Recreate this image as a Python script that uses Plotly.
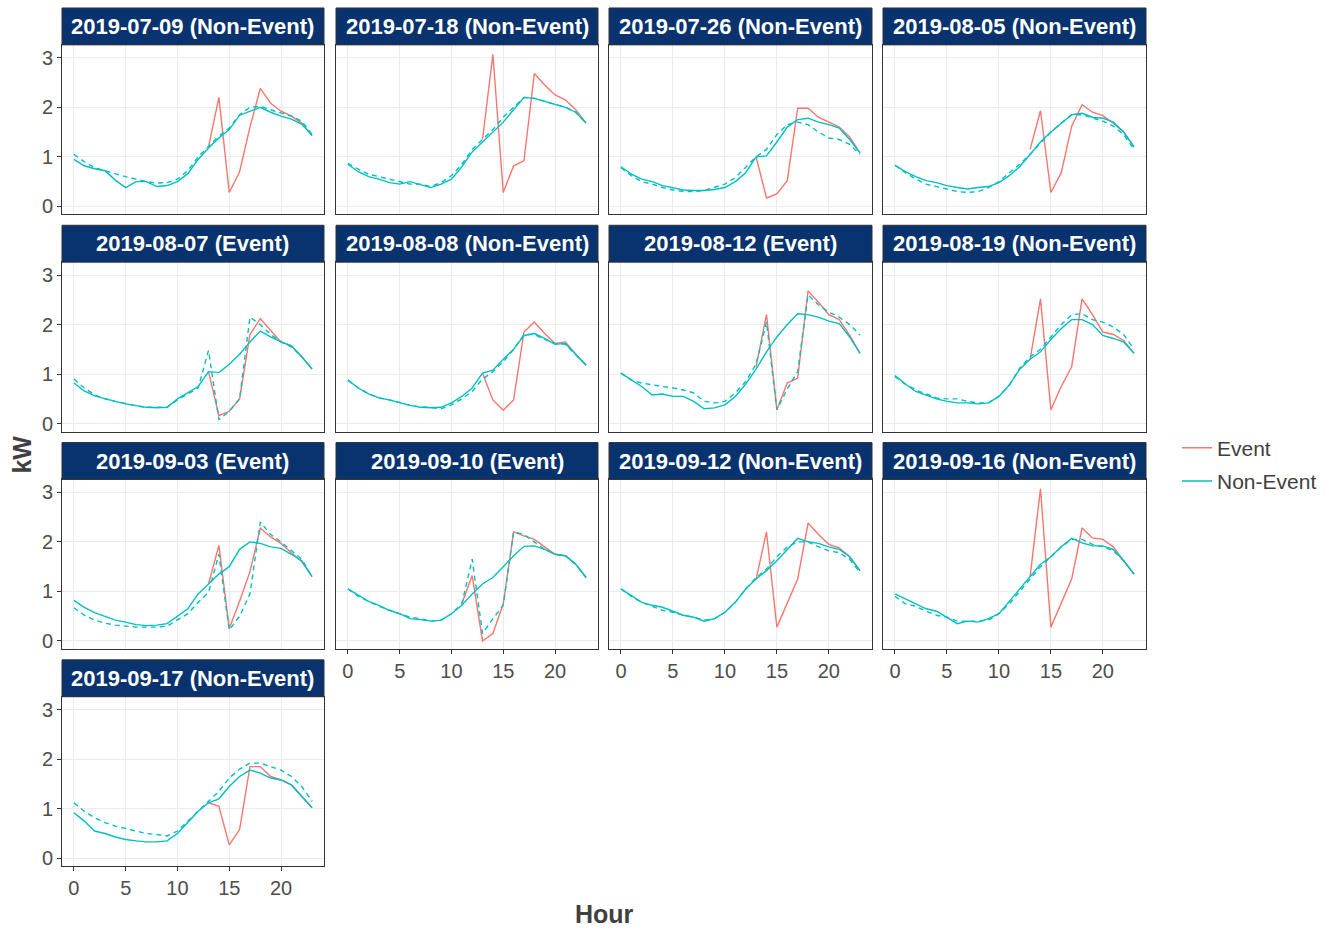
import plotly.graph_objects as go

hours = list(range(24))

dates = ["2019-07-09", "2019-07-18", "2019-07-26", "2019-08-05",
         "2019-08-07", "2019-08-08", "2019-08-12", "2019-08-19",
         "2019-09-03", "2019-09-10", "2019-09-12", "2019-09-16",
         "2019-09-17"]
day_type = ["Non-Event", "Non-Event", "Non-Event", "Non-Event",
            "Event", "Non-Event", "Event", "Non-Event",
            "Event", "Event", "Non-Event", "Non-Event",
            "Non-Event"]

# teal solid line (Non-Event)
solid_0709 = [0.95, 0.82, 0.76, 0.72, 0.53, 0.38, 0.5, 0.5, 0.4, 0.42, 0.5, 0.66, 0.95, 1.18, 1.38, 1.55, 1.84, 1.92, 2.0, 1.9, 1.82, 1.76, 1.66, 1.43]
solid_0718 = [0.85, 0.7, 0.6, 0.55, 0.48, 0.45, 0.5, 0.44, 0.38, 0.45, 0.55, 0.8, 1.1, 1.3, 1.5, 1.7, 1.95, 2.2, 2.18, 2.12, 2.05, 2.0, 1.9, 1.68]
solid_0726 = [0.8, 0.65, 0.55, 0.5, 0.42, 0.38, 0.33, 0.32, 0.32, 0.34, 0.38, 0.5, 0.68, 1.0, 1.02, 1.3, 1.6, 1.75, 1.78, 1.7, 1.65, 1.58, 1.35, 1.08]
solid_0805 = [0.83, 0.7, 0.6, 0.52, 0.48, 0.42, 0.38, 0.35, 0.38, 0.4, 0.48, 0.62, 0.8, 1.05, 1.3, 1.5, 1.68, 1.85, 1.88, 1.8, 1.78, 1.7, 1.5, 1.2]
solid_0807 = [0.82, 0.66, 0.56, 0.5, 0.45, 0.4, 0.36, 0.33, 0.32, 0.33, 0.5, 0.62, 0.75, 1.05, 1.03, 1.2, 1.4, 1.65, 1.87, 1.75, 1.65, 1.57, 1.35, 1.1]
solid_0808 = [0.88, 0.72, 0.6, 0.52, 0.48, 0.42, 0.37, 0.33, 0.32, 0.33, 0.42, 0.55, 0.72, 1.02, 1.08, 1.3, 1.5, 1.78, 1.82, 1.72, 1.6, 1.62, 1.4, 1.18]
solid_0812 = [1.02, 0.88, 0.75, 0.58, 0.6, 0.55, 0.55, 0.45, 0.3, 0.32, 0.38, 0.55, 0.8, 1.1, 1.45, 1.75, 2.0, 2.22, 2.2, 2.15, 2.07, 2.02, 1.75, 1.42]
solid_0819 = [0.97, 0.8, 0.65, 0.57, 0.5, 0.45, 0.42, 0.42, 0.4, 0.42, 0.55, 0.78, 1.1, 1.3, 1.45, 1.7, 1.92, 2.1, 2.1, 2.0, 1.78, 1.72, 1.65, 1.42]
solid_0903 = [0.82, 0.68, 0.57, 0.5, 0.42, 0.38, 0.33, 0.31, 0.32, 0.35, 0.5, 0.65, 0.95, 1.15, 1.35, 1.5, 1.85, 2.0, 1.97, 1.9, 1.87, 1.75, 1.62, 1.3]
solid_0910 = [1.05, 0.92, 0.8, 0.72, 0.62, 0.55, 0.45, 0.43, 0.4, 0.42, 0.55, 0.72, 0.95, 1.15, 1.28, 1.5, 1.72, 1.91, 1.92, 1.85, 1.75, 1.72, 1.55, 1.28]
solid_0912 = [1.05, 0.92, 0.78, 0.72, 0.68, 0.6, 0.52, 0.48, 0.4, 0.45, 0.58, 0.78, 1.05, 1.25, 1.42, 1.62, 1.85, 2.07, 2.0, 1.97, 1.9, 1.85, 1.7, 1.42]
solid_0916 = [0.95, 0.85, 0.75, 0.65, 0.6, 0.48, 0.35, 0.4, 0.38, 0.45, 0.55, 0.8, 1.05, 1.3, 1.55, 1.7, 1.9, 2.07, 1.98, 1.92, 1.92, 1.85, 1.62, 1.35]
solid_0917 = [0.92, 0.75, 0.55, 0.5, 0.43, 0.38, 0.35, 0.33, 0.33, 0.35, 0.5, 0.72, 0.95, 1.12, 1.2, 1.45, 1.65, 1.78, 1.72, 1.62, 1.58, 1.48, 1.25, 1.02]

# teal dashed line
dash_0709 = [1.05, 0.9, 0.78, 0.72, 0.65, 0.6, 0.55, 0.5, 0.47, 0.48, 0.55, 0.72, 1.0, 1.2, 1.42, 1.58, 1.85, 2.0, 2.02, 1.95, 1.88, 1.82, 1.72, 1.45]
dash_0718 = [0.87, 0.75, 0.65, 0.6, 0.55, 0.5, 0.45, 0.45, 0.4, 0.48, 0.62, 0.85, 1.15, 1.35, 1.55, 1.8, 2.0, 2.2, 2.18, 2.12, 2.05, 2.0, 1.9, 1.68]
dash_0726 = [0.78, 0.62, 0.5, 0.45, 0.38, 0.33, 0.3, 0.3, 0.32, 0.38, 0.45, 0.58, 0.78, 1.0, 1.15, 1.45, 1.65, 1.7, 1.65, 1.5, 1.38, 1.35, 1.25, 1.05]
dash_0805 = [0.83, 0.68, 0.55, 0.45, 0.4, 0.35, 0.3, 0.28, 0.3, 0.38, 0.5, 0.68, 0.85, 1.05, 1.28, 1.5, 1.68, 1.85, 1.85, 1.78, 1.72, 1.62, 1.45, 1.15]
dash_0807 = [0.9, 0.72, 0.58, 0.5, 0.45, 0.4, 0.36, 0.33, 0.33, 0.33, 0.48, 0.6, 0.72, 1.48, 0.08, 0.25, 0.5, 2.15, 2.0, 1.8, 1.65, 1.55, 1.35, 1.1]
dash_0808 = [0.88, 0.72, 0.6, 0.52, 0.48, 0.42, 0.37, 0.34, 0.33, 0.3, 0.38, 0.5, 0.65, 0.9, 1.05, 1.25, 1.5, 1.8, 1.8, 1.7, 1.62, 1.6, 1.38, 1.18]
dash_0812 = [1.02, 0.88, 0.82, 0.78, 0.75, 0.72, 0.68, 0.62, 0.45, 0.42, 0.45, 0.62, 0.85, 1.2, 2.05, 0.28, 0.7, 1.05, 2.6, 2.4, 2.25, 2.15, 2.0, 1.79]
dash_0819 = [0.95, 0.8, 0.68, 0.6, 0.52, 0.5, 0.5, 0.45, 0.42, 0.42, 0.55, 0.78, 1.12, 1.35, 1.5, 1.75, 2.0, 2.2, 2.22, 2.1, 2.05, 1.95, 1.8, 1.5]
dash_0903 = [0.67, 0.52, 0.42, 0.36, 0.32, 0.3, 0.28, 0.28, 0.28, 0.3, 0.42, 0.55, 0.78, 0.98, 1.75, 0.22, 0.5, 0.95, 2.4, 2.15, 2.0, 1.82, 1.65, 1.3]
dash_0910 = [1.05, 0.9, 0.8, 0.7, 0.62, 0.55, 0.48, 0.45, 0.4, 0.42, 0.55, 0.75, 1.65, 0.15, 0.45, 0.72, 2.2, 2.15, 2.0, 1.85, 1.75, 1.72, 1.55, 1.28]
dash_0912 = [1.05, 0.9, 0.78, 0.7, 0.62, 0.58, 0.52, 0.48, 0.42, 0.45, 0.58, 0.78, 1.05, 1.28, 1.45, 1.7, 1.9, 2.0, 2.0, 1.9, 1.82, 1.78, 1.65, 1.38]
dash_0916 = [0.9, 0.75, 0.7, 0.6, 0.52, 0.48, 0.4, 0.4, 0.4, 0.42, 0.55, 0.75, 1.0, 1.25, 1.5, 1.7, 1.9, 2.05, 2.05, 1.95, 1.9, 1.82, 1.62, 1.35]
dash_0917 = [1.12, 0.95, 0.82, 0.72, 0.65, 0.6, 0.55, 0.5, 0.48, 0.45, 0.55, 0.75, 0.95, 1.15, 1.35, 1.62, 1.8, 1.92, 1.92, 1.85, 1.78, 1.65, 1.45, 1.15]

# red line (Event) - only the hours where it departs from the teal line
event_0709 = [None] * 13 + [1.2, 2.2, 0.28, 0.7, 1.6, 2.38, 2.08, 1.92, 1.82, 1.68, 1.43]
event_0718 = [None] * 13 + [1.35, 3.07, 0.28, 0.82, 0.92, 2.68, 2.45, 2.25, 2.15, 1.95, 1.68]
event_0726 = [None] * 13 + [1.0, 0.17, 0.25, 0.52, 1.98, 1.98, 1.8, 1.7, 1.6, 1.4, 1.08]
event_0805 = [None] * 13 + [1.15, 1.93, 0.28, 0.68, 1.62, 2.05, 1.9, 1.83, 1.68, 1.5, 1.2]
event_0807 = [None] * 13 + [1.05, 0.16, 0.25, 0.5, 1.8, 2.12, 1.88, 1.65, 1.57, 1.35, 1.1]
event_0808 = [None] * 13 + [1.02, 0.48, 0.27, 0.48, 1.85, 2.05, 1.82, 1.62, 1.65, 1.4, 1.18]
event_0812 = [None] * 13 + [1.15, 2.2, 0.28, 0.82, 0.92, 2.68, 2.45, 2.2, 2.1, 1.78, 1.42]
event_0819 = [None] * 13 + [1.3, 2.52, 0.28, 0.75, 1.15, 2.52, 2.2, 1.85, 1.8, 1.68, 1.42]
event_0903 = [None] * 13 + [1.15, 1.93, 0.25, 0.8, 1.4, 2.28, 2.1, 1.97, 1.78, 1.6, 1.3]
event_0910 = [None] * 11 + [0.75, 1.32, 0.0, 0.15, 0.75, 2.2, 2.12, 2.05, 1.9, 1.75, 1.72, 1.55, 1.28]
event_0912 = [None] * 13 + [1.25, 2.2, 0.28, 0.75, 1.25, 2.38, 2.15, 1.95, 1.88, 1.7, 1.42]
event_0916 = [None] * 13 + [1.3, 3.07, 0.28, 0.75, 1.25, 2.28, 2.08, 2.05, 1.9, 1.62, 1.35]
event_0917 = [None] * 13 + [1.12, 1.05, 0.27, 0.58, 1.85, 1.85, 1.65, 1.58, 1.48, 1.25, 1.02]

solid_series = [solid_0709, solid_0718, solid_0726, solid_0805, solid_0807, solid_0808,
                solid_0812, solid_0819, solid_0903, solid_0910, solid_0912, solid_0916, solid_0917]
dash_series = [dash_0709, dash_0718, dash_0726, dash_0805, dash_0807, dash_0808,
               dash_0812, dash_0819, dash_0903, dash_0910, dash_0912, dash_0916, dash_0917]
event_series = [event_0709, event_0718, event_0726, event_0805, event_0807, event_0808,
                event_0812, event_0819, event_0903, event_0910, event_0912, event_0916, event_0917]

x_ticks = [0, 5, 10, 15, 20]
y_ticks = [0, 1, 2, 3]

RED = "#F8766D"
TEAL = "#00BFC4"
STRIP = "#08336E"
BORDER = "#333333"
FONT = "Liberation Sans, Arial"
W, H = 1336, 931

col_px = [(62, 324), (336, 598), (609, 872), (883, 1146)]
row_px = [(45, 215), (263, 433), (481, 651), (699, 869)]
strip_h = 37

def px_x(p):
    return p / W

def px_y(p):
    return 1 - p / H

fig = go.Figure()
layout = {}
shapes = []
annotations = []

n = len(dates)
for i in range(n):
    r, c = divmod(i, 4)
    k = i + 1
    xa = "x" if k == 1 else f"x{k}"
    ya = "y" if k == 1 else f"y{k}"
    xkey = "xaxis" if k == 1 else f"xaxis{k}"
    ykey = "yaxis" if k == 1 else f"yaxis{k}"
    x0, x1 = col_px[c]
    y0, y1 = row_px[r]
    show_x = (i + 4 >= n)
    show_y = (c == 0)
    layout[xkey] = dict(
        domain=[px_x(x0), px_x(x1)], anchor=ya, range=[-1.15, 24.15],
        tickvals=x_ticks, showticklabels=show_x,
        ticks="outside" if show_x else "", ticklen=4, tickcolor=BORDER,
        tickfont=dict(family=FONT, size=20, color="#4D4D4D"),
        showgrid=True, gridcolor="#EBEBEB", gridwidth=1,
        showline=True, linecolor=BORDER, linewidth=1, mirror=True,
        zeroline=False, fixedrange=True,
    )
    layout[ykey] = dict(
        domain=[px_y(y1), px_y(y0)], anchor=xa, range=[-0.16, 3.26],
        tickvals=y_ticks, showticklabels=show_y,
        ticks="outside" if show_y else "", ticklen=4, tickcolor=BORDER,
        tickfont=dict(family=FONT, size=20, color="#4D4D4D"),
        showgrid=True, gridcolor="#EBEBEB", gridwidth=1,
        showline=True, linecolor=BORDER, linewidth=1, mirror=True,
        zeroline=False, fixedrange=True,
    )
    fig.add_trace(go.Scatter(x=hours, y=event_series[i], mode="lines",
                             line=dict(color=RED, width=1.4), xaxis=xa, yaxis=ya,
                             showlegend=(i == 0), name="Event", legendgroup="Event",
                             connectgaps=False, hoverinfo="skip"))
    fig.add_trace(go.Scatter(x=hours, y=solid_series[i], mode="lines",
                             line=dict(color=TEAL, width=1.4), xaxis=xa, yaxis=ya,
                             showlegend=(i == 0), name="Non-Event", legendgroup="Non-Event",
                             hoverinfo="skip"))
    fig.add_trace(go.Scatter(x=hours, y=dash_series[i], mode="lines",
                             line=dict(color=TEAL, width=1.4, dash="5px,4px"), xaxis=xa, yaxis=ya,
                             showlegend=False, legendgroup="Non-Event", hoverinfo="skip"))
    sy0 = y0 - strip_h
    shapes.append(dict(type="rect", xref="paper", yref="paper",
                       x0=px_x(x0), x1=px_x(x1), y0=px_y(y0), y1=px_y(sy0),
                       fillcolor=STRIP, line=dict(color=BORDER, width=1), layer="above"))
    annotations.append(dict(xref="paper", yref="paper",
                            x=px_x((x0 + x1) / 2), y=px_y(sy0 + strip_h / 2),
                            text=f"<b>{dates[i]} ({day_type[i]})</b>", showarrow=False,
                            xanchor="center", yanchor="middle",
                            font=dict(family=FONT, size=22, color="white")))

annotations.append(dict(xref="paper", yref="paper", x=px_x(604), y=px_y(917),
                        text="<b>Hour</b>", showarrow=False, xanchor="center", yanchor="middle",
                        font=dict(family=FONT, size=25, color="#404040")))
annotations.append(dict(xref="paper", yref="paper", x=px_x(22), y=px_y(456),
                        text="<b>kW</b>", showarrow=False, textangle=-90,
                        xanchor="center", yanchor="middle",
                        font=dict(family=FONT, size=25, color="#404040")))

fig.update_layout(
    width=W, height=H,
    margin=dict(l=0, r=0, t=0, b=0),
    paper_bgcolor="white", plot_bgcolor="white",
    shapes=shapes, annotations=annotations,
    showlegend=True,
    legend=dict(x=px_x(1177), y=px_y(429), xanchor="left", yanchor="top",
                font=dict(family=FONT, size=21, color="#404040"),
                itemwidth=30, tracegroupgap=3, traceorder="grouped",
                bgcolor="rgba(0,0,0,0)"),
    **layout,
)

fig.write_html("out.html")
